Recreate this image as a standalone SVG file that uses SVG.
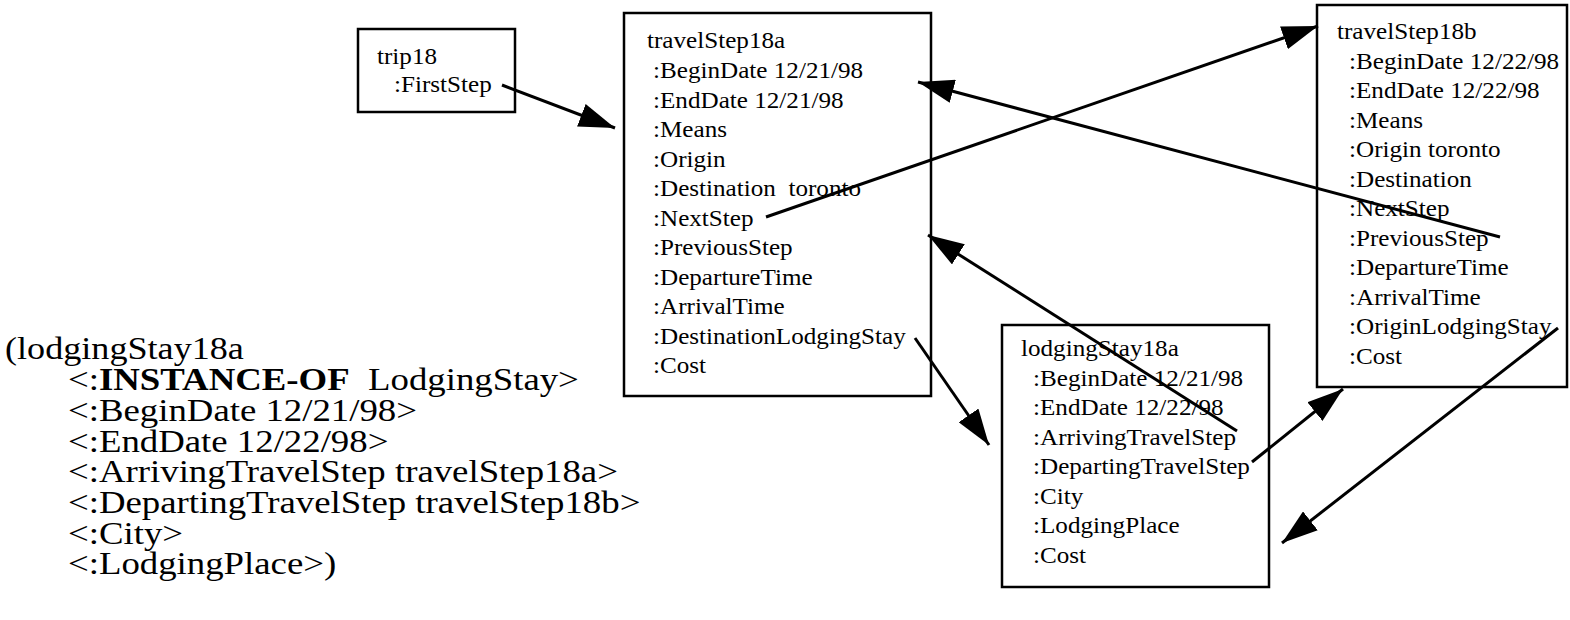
<svg xmlns="http://www.w3.org/2000/svg" width="1570" height="620" viewBox="0 0 1570 620">
<style>
.box{fill:#fff;stroke:#000;stroke-width:2.5}
.t{font-family:"Liberation Serif","Times New Roman",serif;font-size:23.5px;fill:#000;white-space:pre}
.big{font-family:"Liberation Serif","Times New Roman",serif;font-size:32px;fill:#000;white-space:pre}
.c{stroke:#000;stroke-width:3;fill:none}
</style>
<defs>
<marker id="ah" viewBox="0 0 36 24" refX="36" refY="12" markerWidth="36" markerHeight="24" markerUnits="userSpaceOnUse" orient="auto">
<path d="M0,0 L36,12 L0,24 Z" fill="#000"/>
</marker>
</defs>
<g id="lisp">
<text class="big" transform="translate(5 359) scale(1.13 1)">(lodgingStay18a</text>
<text class="big" transform="translate(68 390) scale(1.15 1)">&lt;:<tspan font-weight="bold">INSTANCE-OF</tspan>  LodgingStay&gt;</text>
<text class="big" transform="translate(68 421) scale(1.15 1)">&lt;:BeginDate 12/21/98&gt;</text>
<text class="big" transform="translate(68 451.5) scale(1.15 1)">&lt;:EndDate 12/22/98&gt;</text>
<text class="big" transform="translate(68 482) scale(1.15 1)">&lt;:ArrivingTravelStep travelStep18a&gt;</text>
<text class="big" transform="translate(68 513) scale(1.15 1)">&lt;:DepartingTravelStep travelStep18b&gt;</text>
<text class="big" transform="translate(68 543.5) scale(1.15 1)">&lt;:City&gt;</text>
<text class="big" transform="translate(68 574) scale(1.15 1)">&lt;:LodgingPlace&gt;)</text>
</g>
<g id="trip18">
<rect class="box" x="358" y="29" width="157" height="83"/>
<text class="t" transform="translate(377 64) scale(1.07 1)">trip18</text>
<text class="t" transform="translate(394 92) scale(1.07 1)">:FirstStep</text>
</g>
<g id="travelStep18a">
<rect class="box" x="624" y="13" width="307" height="383"/>
<text class="t" transform="translate(647 48) scale(1.07 1)">travelStep18a</text>
<text class="t" transform="translate(653 78) scale(1.07 1)">:BeginDate 12/21/98</text>
<text class="t" transform="translate(653 107.5) scale(1.07 1)">:EndDate 12/21/98</text>
<text class="t" transform="translate(653 137) scale(1.07 1)">:Means</text>
<text class="t" transform="translate(653 166.5) scale(1.07 1)">:Origin</text>
<text class="t" transform="translate(653 196) scale(1.07 1)">:Destination  toronto</text>
<text class="t" transform="translate(653 225.5) scale(1.07 1)">:NextStep</text>
<text class="t" transform="translate(653 255) scale(1.07 1)">:PreviousStep</text>
<text class="t" transform="translate(653 284.5) scale(1.07 1)">:DepartureTime</text>
<text class="t" transform="translate(653 314) scale(1.07 1)">:ArrivalTime</text>
<text class="t" transform="translate(653 343.5) scale(1.07 1)">:DestinationLodgingStay</text>
<text class="t" transform="translate(653 373) scale(1.07 1)">:Cost</text>
</g>
<g id="travelStep18b">
<rect class="box" x="1317" y="5" width="250" height="382"/>
<text class="t" transform="translate(1337 39) scale(1.07 1)">travelStep18b</text>
<text class="t" transform="translate(1349 68.5) scale(1.07 1)">:BeginDate 12/22/98</text>
<text class="t" transform="translate(1349 98) scale(1.07 1)">:EndDate 12/22/98</text>
<text class="t" transform="translate(1349 127.5) scale(1.07 1)">:Means</text>
<text class="t" transform="translate(1349 157) scale(1.07 1)">:Origin toronto</text>
<text class="t" transform="translate(1349 186.5) scale(1.07 1)">:Destination</text>
<text class="t" transform="translate(1349 216) scale(1.07 1)">:NextStep</text>
<text class="t" transform="translate(1349 245.5) scale(1.07 1)">:PreviousStep</text>
<text class="t" transform="translate(1349 275) scale(1.07 1)">:DepartureTime</text>
<text class="t" transform="translate(1349 304.5) scale(1.07 1)">:ArrivalTime</text>
<text class="t" transform="translate(1349 334) scale(1.07 1)">:OriginLodgingStay</text>
<text class="t" transform="translate(1349 363.5) scale(1.07 1)">:Cost</text>
</g>
<g id="lodgingStay18a">
<rect class="box" x="1002" y="325" width="267" height="262"/>
<text class="t" transform="translate(1021 356) scale(1.07 1)">lodgingStay18a</text>
<text class="t" transform="translate(1033 385.5) scale(1.07 1)">:BeginDate 12/21/98</text>
<text class="t" transform="translate(1033 415) scale(1.07 1)">:EndDate 12/22/98</text>
<text class="t" transform="translate(1033 444.5) scale(1.07 1)">:ArrivingTravelStep</text>
<text class="t" transform="translate(1033 474) scale(1.07 1)">:DepartingTravelStep</text>
<text class="t" transform="translate(1033 503.5) scale(1.07 1)">:City</text>
<text class="t" transform="translate(1033 533) scale(1.07 1)">:LodgingPlace</text>
<text class="t" transform="translate(1033 562.5) scale(1.07 1)">:Cost</text>
</g>
<g id="connectors">
<line class="c" x1="502" y1="85" x2="615" y2="128" marker-end="url(#ah)"/>
<line class="c" x1="766" y1="217" x2="1318" y2="26" marker-end="url(#ah)"/>
<line class="c" x1="1500" y1="237" x2="918" y2="82" marker-end="url(#ah)"/>
<line class="c" x1="1237" y1="431" x2="928" y2="235" marker-end="url(#ah)"/>
<line class="c" x1="915" y1="338" x2="989" y2="445" marker-end="url(#ah)"/>
<line class="c" x1="1252" y1="462" x2="1343" y2="389" marker-end="url(#ah)"/>
<line class="c" x1="1558" y1="328" x2="1282" y2="543" marker-end="url(#ah)"/>
</g>
</svg>
